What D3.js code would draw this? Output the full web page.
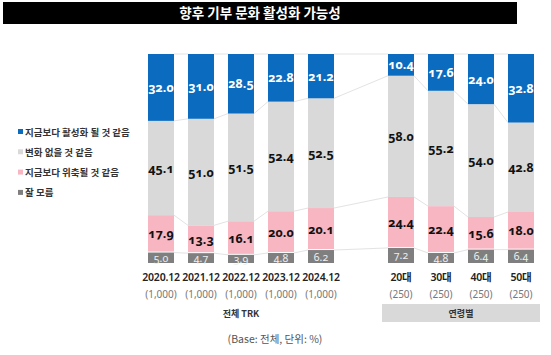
<!DOCTYPE html>
<html><head><meta charset="utf-8">
<script src="https://cdn.jsdelivr.net/npm/d3@7"></script>
<style>
html,body{margin:0;padding:0;background:#fff;}
svg{display:block;font-family:"Noto Sans","Noto Sans CJK KR",sans-serif;}
.num{font-variant-numeric:oldstyle-nums;}
</style></head>
<body>
<script>
const title = "향후 기부 문화 활성화 가능성";
const trendCats = ["2020.12","2021.12","2022.12","2023.12","2024.12"];
const ageCats = ["20대","30대","40대","50대"];
const categories = trendCats.concat(ageCats);
const sampleSizes = ["(1,000)","(1,000)","(1,000)","(1,000)","(1,000)","(250)","(250)","(250)","(250)"];
const seriesNames = ["지금보다 활성화 될 것 같음","변화 없을 것 같음","지금보다 위축될 것 같음","잘 모름"];
const active  = [32.0,31.0,28.5,22.8,21.2,10.4,17.6,24.0,32.8];
const same    = [45.1,51.0,51.5,52.4,52.5,58.0,55.2,54.0,42.8];
const shrink  = [17.9,13.3,16.1,20.0,20.1,24.4,22.4,15.6,18.0];
const unknown = [5.0,4.7,3.9,4.8,6.2,7.2,4.8,6.4,6.4];
const groupLabels = ["전체 TRK","연령별"];
const baseNote = "(Base: 전체, 단위: %)";

const colors = {active:"#0b6cbf", same:"#d9d9d9", shrink:"#f8b6c2", unknown:"#7f7f7f"};
const labelColors = {active:"#ffffff", same:"#111111", shrink:"#111111", unknown:"#eeeeee"};
const keys = ["unknown","shrink","same","active"];

const rows = categories.map((c,i)=>({cat:c, active:active[i], same:same[i], shrink:shrink[i], unknown:unknown[i]}));

const W=551,H=355;
const svg = d3.select("body").append("svg").attr("width",W).attr("height",H);

// title bar
svg.append("rect").attr("x",3).attr("y",2).attr("width",514).attr("height",22).attr("fill","#000");
svg.append("text").attr("x",260).attr("y",18).attr("text-anchor","middle").attr("fill","#fff")
  .attr("font-size",13.5).attr("font-weight","bold").attr("font-family","Noto Sans CJK KR").text(title);

const bandDomain = trendCats.concat([""], ageCats);
const x = d3.scaleBand().domain(bandDomain).range([141,541]).paddingInner(0.35).paddingOuter(0.175);
const y = d3.scaleLinear().domain([0,100]).range([263,54]);

const stacked = d3.stack().keys(keys)(rows);

// connecting lines
const lines = svg.append("g").attr("stroke","#e3e3e3").attr("stroke-width",1).attr("fill","none");
stacked.forEach(layer=>{
  for(let i=0;i<rows.length-1;i++){
    const a=layer[i], b=layer[i+1];
    lines.append("line")
      .attr("x1",x(a.data.cat)+x.bandwidth()).attr("y1",y(a[1]))
      .attr("x2",x(b.data.cat)).attr("y2",y(b[1]));
  }
});

// bars
stacked.forEach(layer=>{
  const k=layer.key;
  const g=svg.append("g");
  g.selectAll("rect").data(layer).join("rect")
    .attr("x",d=>x(d.data.cat)).attr("width",x.bandwidth())
    .attr("y",d=>y(d[1]))
    .attr("height",d=>y(d[0])-y(d[1]) - (k==="shrink"?1:0))
    .attr("fill",colors[k]);
  g.selectAll("text").data(layer).join("text")
    .attr("class","num")
    .attr("x",d=>x(d.data.cat)+x.bandwidth()/2)
    .attr("y",d=>(y(d[0])+y(d[1]))/2 + (k==="unknown"?4:4.5))
    .attr("text-anchor","middle")
    .attr("font-size",k==="unknown"?10.5:12.5)
    .attr("font-weight",k==="unknown"?"normal":"bold")
    .attr("fill",labelColors[k])
    .text(d=>(d[1]-d[0]).toFixed(1));
});

// category labels
svg.append("g").selectAll("text").data(categories).join("text")
  .attr("x",d=>x(d)+x.bandwidth()/2).attr("y",281).attr("text-anchor","middle")
  .attr("font-size",10.5).attr("font-weight",600).attr("fill","#222")
  .attr("letter-spacing",-0.2)
  .text(d=>d);
svg.append("g").selectAll("text").data(categories).join("text")
  .attr("x",d=>x(d)+x.bandwidth()/2).attr("y",298).attr("text-anchor","middle")
  .attr("font-size",10).attr("fill","#777")
  .text((d,i)=>sampleSizes[i]);

// group labels
svg.append("text").attr("x",x(trendCats[2])+x.bandwidth()/2).attr("y",317).attr("text-anchor","middle")
  .attr("font-size",9).attr("font-weight","bold").attr("fill","#333").attr("font-family","Noto Sans CJK KR").text(groupLabels[0]);
const boxX0 = x(ageCats[0]) - 6, boxX1 = x(ageCats[3]) + x.bandwidth() + 6;
svg.append("rect").attr("x",boxX0).attr("y",304).attr("width",boxX1-boxX0).attr("height",18).attr("fill","#d9d9d9");
svg.append("text").attr("x",(boxX0+boxX1)/2).attr("y",317).attr("text-anchor","middle")
  .attr("font-size",9).attr("font-weight","bold").attr("fill","#333").attr("font-family","Noto Sans CJK KR").text(groupLabels[1]);

svg.append("text").attr("x",275).attr("y",343).attr("text-anchor","middle")
  .attr("font-size",10.5).attr("fill","#555").attr("font-family","Noto Sans CJK KR").text(baseNote);

// legend
const legKeys = ["active","same","shrink","unknown"];
const leg = svg.append("g");
legKeys.forEach((k,i)=>{
  const ly = 132 + i*20.3;
  leg.append("rect").attr("x",18).attr("y",ly-3).attr("width",5).attr("height",5).attr("fill",colors[k]);
  leg.append("text").attr("x",25).attr("y",ly+3.5).attr("font-size",9.5).attr("font-weight","bold")
    .attr("fill","#333").attr("font-family","Noto Sans CJK KR").text(seriesNames[i]);
});
</script>
</body></html>
